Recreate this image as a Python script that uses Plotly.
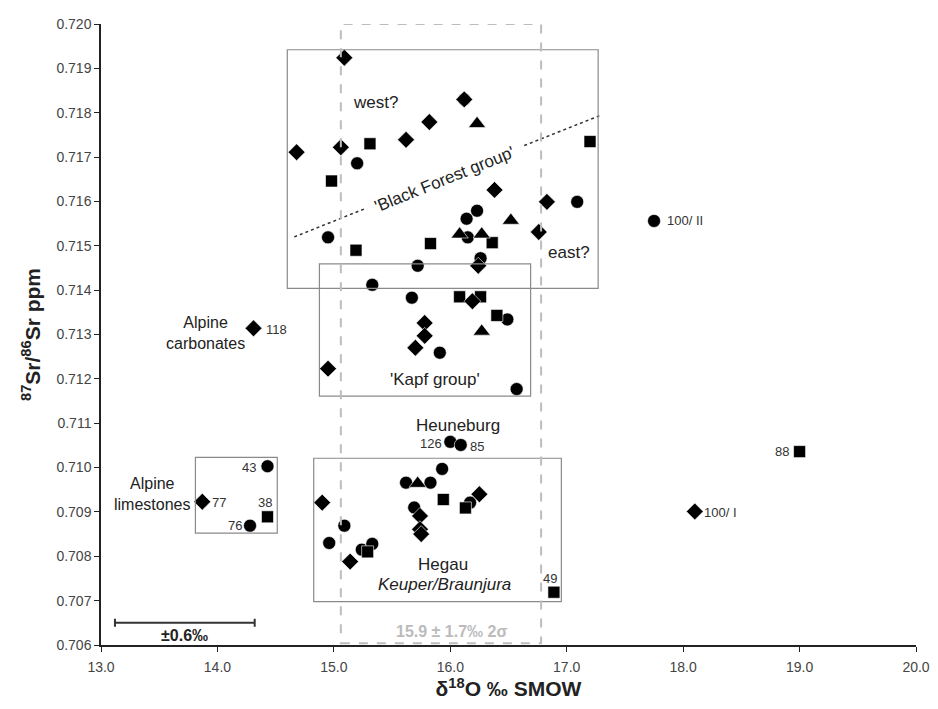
import plotly.graph_objects as go

# ---- data (d18O, 87Sr/86Sr) ----
circle_x = [15.20, 17.09, 16.23, 16.14, 14.95, 16.15, 16.26, 15.72, 15.33, 15.67, 16.49, 15.91, 16.57,
            16.00, 16.09, 14.43, 14.28, 15.93, 15.62, 15.83, 16.17, 15.69, 15.09, 14.96, 15.24, 15.33,
            17.75, 16.12]
circle_y = [0.71686, 0.71599, 0.71579, 0.71561, 0.71519, 0.71519, 0.71472, 0.71455, 0.71412, 0.71383,
            0.71334, 0.71259, 0.71177, 0.71058, 0.71051, 0.71003, 0.70869, 0.70997, 0.70966, 0.70966,
            0.70921, 0.70910, 0.70869, 0.70830, 0.70815, 0.70828, 0.71556, 0.71830]

square_x = [15.31, 14.98, 17.20, 16.36, 15.83, 15.19, 16.08, 16.26, 16.40, 14.43, 15.94, 16.13, 15.29,
            16.89, 19.00]
square_y = [0.71730, 0.71646, 0.71735, 0.71507, 0.71505, 0.71490, 0.71385, 0.71385, 0.71343, 0.70889,
            0.70928, 0.70909, 0.70810, 0.70719, 0.71036]

diamond_x = [15.09, 16.12, 15.82, 15.62, 15.06, 14.68, 16.38, 16.83, 16.76, 16.24, 16.19, 15.78, 15.78,
             15.70, 14.95, 14.31, 13.87, 14.90, 16.25, 15.74, 15.74, 15.75, 15.14, 18.10]
diamond_y = [0.71924, 0.71830, 0.71779, 0.71739, 0.71722, 0.71711, 0.71626, 0.71599, 0.71531, 0.71455,
             0.71375, 0.71326, 0.71297, 0.71270, 0.71223, 0.71314, 0.70923, 0.70921, 0.70940, 0.70891,
             0.70861, 0.70850, 0.70788, 0.70901]

triangle_x = [16.23, 16.52, 16.08, 16.27, 16.27, 15.72]
triangle_y = [0.71775, 0.71557, 0.71526, 0.71526, 0.71307, 0.70964]

# sample number labels: (text, x, y, anchor)
sample_labels = ["118", "100/ II", "100/ I", "88", "43", "77", "38", "76", "126", "85", "49"]
sample_lx = [14.40, 17.84, 18.16, 18.93, 14.35, 13.94, 14.41, 14.23, 15.95, 16.15, 16.86]
sample_ly = [0.71312, 0.71556, 0.70899, 0.71036, 0.71001, 0.70921, 0.70921, 0.70869, 0.71055, 0.71047, 0.70749]
sample_anchor = ["left", "left", "left", "right", "right", "left", "center", "right", "right", "left", "center"]

# uncertainty bar
err_center = 13.72
err_half = 0.6
err_y = 0.70650

# groups boxes (x0, x1, y0, y1)
box_names = ["Black Forest", "Kapf", "Hegau", "Alpine limestones"]
box_x0 = [14.60, 14.876, 14.827, 13.811]
box_x1 = [17.27, 16.690, 16.954, 14.514]
box_y0 = [0.71404, 0.71161, 0.70698, 0.70852]
box_y1 = [0.71942, 0.71459, 0.71021, 0.71023]

# mean +/- 2 sigma window
win_x0, win_x1 = 15.06, 16.78
win_y0, win_y1 = 0.70604, 0.72000

# dividing line (two segments around the label)
div_x = [14.66, 15.28, None, 16.635, 17.28]
div_y = [0.71520, 0.71585, None, 0.71726, 0.71793]

FONT = "Liberation Sans, Arial, sans-serif"
fig = go.Figure()

fig.add_trace(go.Scatter(x=div_x, y=div_y, mode="lines",
                         line=dict(color="#333333", width=1.5, dash="dot"), hoverinfo="skip",
                         showlegend=False))

marker_line = dict(color="white", width=0.6)
fig.add_trace(go.Scatter(x=circle_x, y=circle_y, mode="markers", showlegend=False,
                         marker=dict(symbol="circle", size=13, color="black", line=marker_line)))
fig.add_trace(go.Scatter(x=square_x, y=square_y, mode="markers", showlegend=False,
                         marker=dict(symbol="square", size=12, color="black", line=marker_line)))
fig.add_trace(go.Scatter(x=diamond_x, y=diamond_y, mode="markers", showlegend=False,
                         marker=dict(symbol="diamond", size=13, color="black", line=marker_line)))
fig.add_trace(go.Scatter(x=triangle_x, y=triangle_y, mode="markers", showlegend=False,
                         marker=dict(symbol="triangle-up", size=15, color="black", line=marker_line)))

fig.add_trace(go.Scatter(x=[err_center], y=[err_y], mode="markers", showlegend=False,
                         marker=dict(size=1, color="rgba(0,0,0,0)"),
                         error_x=dict(type="data", array=[err_half], symmetric=True,
                                      color="#333333", thickness=2, width=4)))

shapes = []
for x0, x1, y0, y1 in zip(box_x0, box_x1, box_y0, box_y1):
    shapes.append(dict(type="rect", xref="x", yref="y", x0=x0, x1=x1, y0=y0, y1=y1,
                       line=dict(color="#8a8a8a", width=1.2)))
shapes.append(dict(type="rect", xref="x", yref="y", x0=win_x0, x1=win_x1, y0=win_y0, y1=win_y1,
                   line=dict(color="#bdbdbd", width=2, dash="dash")))

annotations = []
for t, x, y, a in zip(sample_labels, sample_lx, sample_ly, sample_anchor):
    annotations.append(dict(x=x, y=y, text=t, xanchor=a, yanchor="middle", showarrow=False,
                            font=dict(family=FONT, size=13, color="#333333")))

texts = [
    ("Alpine<br>carbonates", 14.25, 0.71303, "right", 16, "#222222", 0),
    ("Alpine<br>limestones", 13.78, 0.70941, "right", 16, "#222222", 0),
    ("west?", 15.36, 0.71822, "center", 17, "#222222", 0),
    ("east?", 17.02, 0.71484, "center", 17, "#222222", 0),
    ("'Kapf group'", 15.87, 0.71199, "center", 17, "#222222", 0),
    ("Heuneburg", 16.07, 0.71094, "center", 17, "#222222", 0),
    ("Hegau", 15.94, 0.70781, "center", 17, "#222222", 0),
    ("<i>Keuper/Braunjura</i>", 15.95, 0.70736, "center", 17, "#222222", 0),
    ("'Black Forest group'", 15.95, 0.71650, "center", 17, "#222222", -22),
    ("<b>15.9 ± 1.7‰ 2σ</b>", 16.01, 0.70630, "center", 16, "#bbbbbb", 0),
    ("<b>±0.6‰</b>", 13.72, 0.70621, "center", 16, "#222222", 0),
]
for t, x, y, a, s, c, ang in texts:
    annotations.append(dict(x=x, y=y, text=t, xanchor=a, yanchor="middle", showarrow=False,
                            textangle=ang, align="center",
                            font=dict(family=FONT, size=s, color=c)))

# page body adds an 8px offset; figure is sized to fill the rest of the window
fig.update_layout(
    width=930, height=701,
    margin=dict(l=93, r=17, t=8, b=64),
    paper_bgcolor="white", plot_bgcolor="white",
    shapes=shapes, annotations=annotations,
    font=dict(family=FONT, color="#333333"),
)
fig.update_xaxes(range=[13, 20], dtick=1, tickformat=".1f", showgrid=False, zeroline=False,
                 showline=True, linecolor="#222222", linewidth=1.5, ticks="outside", ticklen=5,
                 tickcolor="#222222", ticklabelstandoff=3, ticklabeloverflow="allow",
                 tickfont=dict(family=FONT, size=14, color="#444444"),
                 title=dict(text="<b>δ<sup>18</sup>O ‰ SMOW</b>", standoff=8,
                            font=dict(family=FONT, size=21, color="#222222")))
fig.update_yaxes(range=[0.706, 0.720], dtick=0.001, tickformat=".3f", showgrid=False, zeroline=False,
                 showline=True, linecolor="#222222", linewidth=1.5, ticks="outside", ticklen=5,
                 tickcolor="#222222", ticklabeloverflow="allow",
                 tickfont=dict(family=FONT, size=14, color="#444444"),
                 title=dict(text="<b><sup>87</sup>Sr/<sup>86</sup>Sr ppm</b>", standoff=10,
                            font=dict(family=FONT, size=21, color="#222222")))

fig.write_html("out.html")
